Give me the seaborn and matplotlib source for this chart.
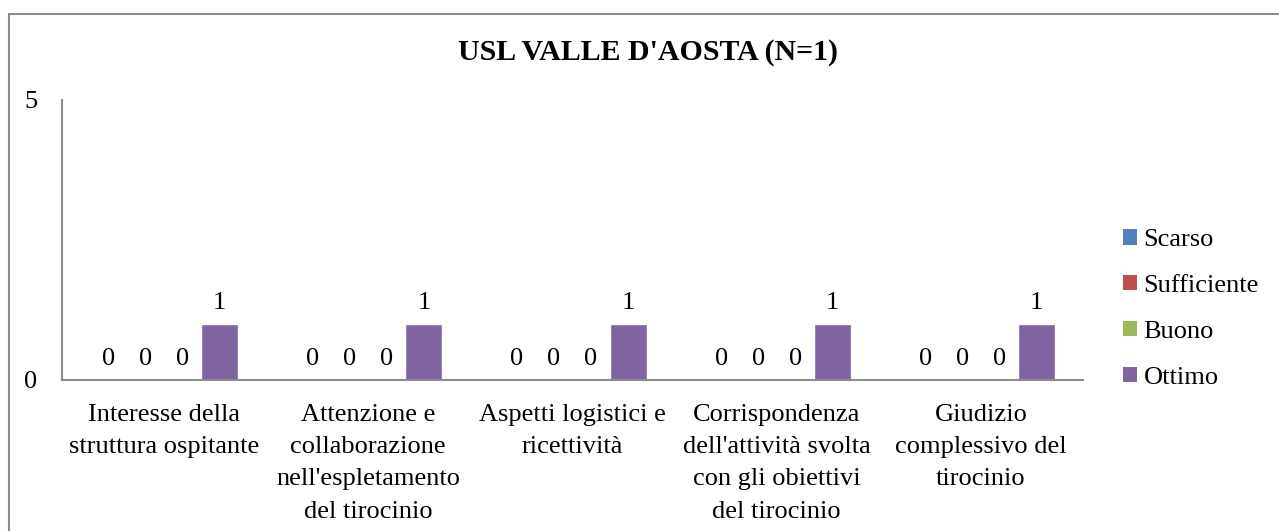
import matplotlib
matplotlib.use("Agg")
import matplotlib.pyplot as plt
import matplotlib.patches as mpatches
import seaborn as sns
import pandas as pd

categories = [
    "Interesse della\nstruttura ospitante",
    "Attenzione e\ncollaborazione\nnell'espletamento\ndel tirocinio",
    "Aspetti logistici e\nricettività",
    "Corrispondenza\ndell'attività svolta\ncon gli obiettivi\ndel tirocinio",
    "Giudizio\ncomplessivo del\ntirocinio",
]
series = ["Scarso", "Sufficiente", "Buono", "Ottimo"]
scarso = [0, 0, 0, 0, 0]
sufficiente = [0, 0, 0, 0, 0]
buono = [0, 0, 0, 0, 0]
ottimo = [1, 1, 1, 1, 1]
colors = ["#4F81BD", "#C0504D", "#9BBB59", "#8064A2"]
title = "USL VALLE D'AOSTA (N=1)"

rows = []
for name, vals in zip(series, [scarso, sufficiente, buono, ottimo]):
    for c, v in zip(categories, vals):
        rows.append({"cat": c, "serie": name, "val": v})
df = pd.DataFrame(rows)

sns.set_theme(style="white")
plt.rcParams["font.family"] = ["Liberation Serif", "DejaVu Serif"]
plt.rcParams["text.color"] = "black"
plt.rcParams["xtick.color"] = "black"
plt.rcParams["ytick.color"] = "black"

FS = 19

fig = plt.figure(figsize=(12.79, 5.31), dpi=100)
W, H = 1279, 531
ax = fig.add_axes([62 / W, 1 - 380 / H, (1083 - 62) / W, (380 - 100) / H])

sns.barplot(data=df, x="cat", y="val", hue="serie", hue_order=series,
            order=categories, palette=colors, ax=ax, width=0.725,
            saturation=1, legend=False, errorbar=None)

for cont in ax.containers:
    ax.bar_label(cont, fmt="%d", padding=7.5, fontsize=FS, color="black")

ax.set_ylim(0, 5)
ax.set_yticks([0, 5])
ax.set_xlim(-0.5, len(categories) - 0.5)
ax.set_xlabel("")
ax.set_ylabel("")
for s in ["top", "right"]:
    ax.spines[s].set_visible(False)
for s in ["left", "bottom"]:
    ax.spines[s].set_color("#8C8C8C")
    ax.spines[s].set_linewidth(1.5)
ax.tick_params(axis="y", length=0, pad=18, labelsize=FS, colors="black")
ax.tick_params(axis="x", length=0, pad=17, labelsize=FS, colors="black")
for lab in ax.get_xticklabels():
    lab.set_linespacing(1.61)
    lab.set_horizontalalignment("center")

fig.text(648 / W, 1 - 53 / H, title, ha="center", va="center",
         fontsize=21.5, fontweight="bold", color="black")

handles = [mpatches.Patch(facecolor=c, edgecolor="none", label=s)
           for s, c in zip(series, colors)]
fig.legend(handles=handles, loc="upper left",
           bbox_to_anchor=(1123 / W, 1 - 229 / H), frameon=False,
           fontsize=FS, handlelength=0.53, handleheight=0.53,
           handletextpad=0.25, labelspacing=0.9, borderaxespad=0,
           borderpad=0, labelcolor="black")

border = mpatches.Rectangle((8.5 / W, -0.05), 1.2, 1 - 13.5 / H + 0.05,
                            transform=fig.transFigure, fill=False,
                            edgecolor="#8C8C8C", linewidth=1.5)
fig.patches.append(border)

fig.savefig("out.png", dpi=100)
